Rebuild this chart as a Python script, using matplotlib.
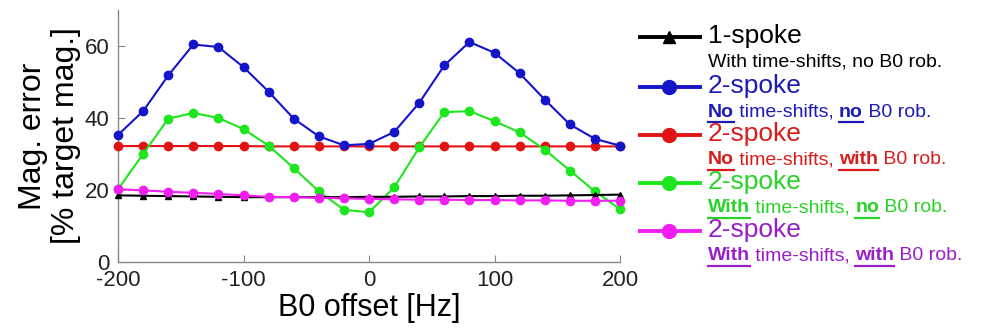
import matplotlib
matplotlib.use("Agg")
import matplotlib.pyplot as plt
from matplotlib.lines import Line2D

plt.rcParams['font.family'] = ['Liberation Sans', 'DejaVu Sans']
plt.rcParams['axes.unicode_minus'] = False

# B0 offset [Hz]
offsets = [-200, -180, -160, -140, -120, -100, -80, -60, -40, -20, 0,
           20, 40, 60, 80, 100, 120, 140, 160, 180, 200]

# magnitude error [% target mag.]
one_spoke = [18.5, 18.4, 18.3, 18.2, 18.1, 18.0, 18.0, 18.0, 18.0, 18.0, 18.1,
             18.1, 18.2, 18.2, 18.3, 18.3, 18.4, 18.4, 18.5, 18.6, 18.7]
two_no_no = [35.3, 41.9, 51.8, 60.4, 59.7, 54.1, 47.3, 39.8, 34.9, 32.4, 32.8,
             36.1, 44.2, 54.6, 61.1, 58.1, 52.4, 45.1, 38.2, 34.2, 32.3]
two_no_with = [32.2, 32.2, 32.2, 32.2, 32.2, 32.2, 32.1, 32.1, 32.1, 32.1, 32.1,
               32.1, 32.1, 32.1, 32.1, 32.1, 32.1, 32.1, 32.1, 32.1, 32.1]
two_with_no = [20.2, 30.0, 39.8, 41.4, 40.0, 36.9, 32.3, 26.1, 19.6, 14.5, 13.8,
               20.7, 31.8, 41.6, 41.9, 39.1, 36.0, 31.2, 25.4, 19.6, 14.7]
two_with_with = [20.2, 19.9, 19.5, 19.2, 18.9, 18.5, 18.1, 18.0, 17.8, 17.7, 17.5,
                 17.4, 17.3, 17.3, 17.2, 17.2, 17.1, 17.1, 17.0, 17.0, 17.0]

series = [one_spoke, two_no_no, two_no_with, two_with_no, two_with_with]
line_colors = ['#000000', '#1414c8', '#e01414', '#1ee61e', '#f01ef0']
text_colors = ['#000000', '#1c1cb4', '#d81c1c', '#28d228', '#9a1ec8']
markers = ['^', 'o', 'o', 'o', 'o']
titles = ['1-spoke', '2-spoke', '2-spoke', '2-spoke', '2-spoke']
# subtitle pieces: (text, bold+underlined)
subtitles = [
    [('With time-shifts, no B0 rob.', False)],
    [('No', True), (' time-shifts, ', False), ('no', True), (' B0 rob.', False)],
    [('No', True), (' time-shifts, ', False), ('with', True), (' B0 rob.', False)],
    [('With', True), (' time-shifts, ', False), ('no', True), (' B0 rob.', False)],
    [('With', True), (' time-shifts, ', False), ('with', True), (' B0 rob.', False)],
]

fig = plt.figure(figsize=(9.87, 3.31), dpi=100)
ax = fig.add_axes([0.1196, 0.2085, 0.5086, 0.7615])

# draw in order so black ends up below pink like the original
order = [2, 1, 3, 0, 4]
for i in order:
    ax.plot(offsets, series[i], color=line_colors[i], marker=markers[i],
            markersize=6 if markers[i] == 'o' else 5, linewidth=1.5, clip_on=False,
            zorder=3)

ax.set_xlim(-200, 200)
ax.set_ylim(0, 70)
ax.set_xticks([-200, -100, 0, 100, 200])
ax.set_yticks([0, 20, 40, 60])
for s in ['top', 'right']:
    ax.spines[s].set_visible(False)
for s in ['left', 'bottom']:
    ax.spines[s].set_color('#888888')
    ax.spines[s].set_linewidth(1.0)
ax.tick_params(direction='in', length=5, color='#888888', labelsize=16,
               labelcolor='#222222', pad=6)
ax.set_xlabel('B0 offset [Hz]', fontsize=22, labelpad=1)
ax.set_ylabel('Mag. error\n[% target mag.]', fontsize=23, labelpad=3,
              linespacing=1.12)

# legend built by hand (two-line entries with underlined bold words)
renderer = fig.canvas.get_renderer()
W, H = fig.get_size_inches() * fig.dpi
row_y = [37, 87, 135, 183, 231]
for i in range(5):
    yf = 1 - row_y[i] / H
    fig.add_artist(Line2D([640 / W, 700 / W], [yf, yf], color=line_colors[i],
                          linewidth=2.8))
    fig.add_artist(Line2D([669 / W], [yf], color=line_colors[i], marker=markers[i],
                          markersize=10 if markers[i] == 'o' else 8, linestyle='none'))
    fig.text(708 / W, yf + 1 / H, titles[i], color=text_colors[i], fontsize=19,
             va='center', ha='left')
    x = 708 / W
    ys = 1 - (row_y[i] + 25) / H
    for txt, bold in subtitles[i]:
        t = fig.text(x, ys, txt, color=text_colors[i], fontsize=14,
                     fontweight='bold' if bold else 'normal', va='center', ha='left')
        bb = t.get_window_extent(renderer)
        if bold:
            uy = (bb.y0 - 1) / H
            fig.add_artist(Line2D([bb.x0 / W, bb.x1 / W], [uy, uy],
                                  color=text_colors[i], linewidth=1.6))
        x = bb.x1 / W

fig.savefig('out.png', dpi=100)
